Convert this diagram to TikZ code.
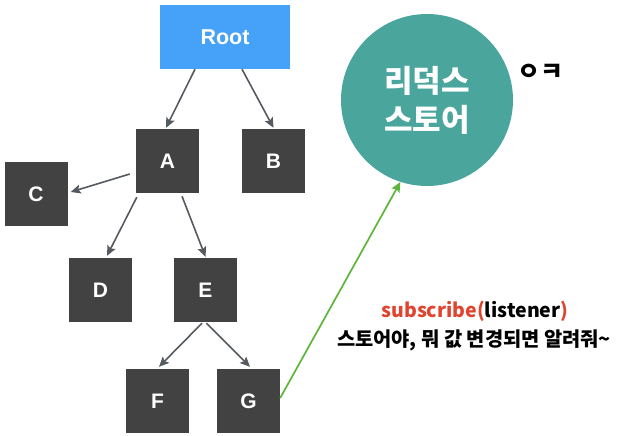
\documentclass[tikz,border=0pt]{standalone}
\usepackage{fontspec}
\setmainfont{Liberation Sans}
\newfontfamily\kr{Noto Sans CJK KR}
\usetikzlibrary{arrows.meta}
\definecolor{rootblue}{HTML}{45A2F8}
\definecolor{boxgray}{HTML}{424242}
\definecolor{teal}{HTML}{4AA59C}
\definecolor{arrgray}{HTML}{555A60}
\definecolor{lgreen}{HTML}{5DB53A}
\definecolor{sred}{HTML}{E0442F}
\tikzset{
  box/.style={fill=boxgray, text=white, minimum width=63pt, minimum height=64pt, inner sep=0pt, font=\fontsize{21}{24}\selectfont\bfseries},
  rootbox/.style={fill=rootblue, text=white, minimum width=130pt, minimum height=64pt, inner sep=0pt, font=\fontsize{21.5}{24}\selectfont\bfseries},
  edge/.style={draw=arrgray, line width=1.6pt, -{Stealth[length=10pt,width=9pt,inset=2pt]}},
  gedge/.style={draw=lgreen, line width=1.7pt, -{Stealth[length=10pt,width=9pt,inset=2pt]}},
}
\begin{document}
\begin{tikzpicture}[x=1pt,y=-1pt]
\useasboundingbox (0,0) rectangle (619,436);
\node[rootbox] (root) at (225,37) {\raisebox{-1.5pt}{Root}};
\node[box] (A) at (167.5,161) {A};
\node[box] (B) at (273.5,161) {B};
\node[box] (C) at (36,194) {C};
\node[box] (D) at (100.5,290) {D};
\node[box] (E) at (205.5,290) {E};
\node[box] (F) at (157.5,401) {F};
\node[box] (G) at (248.5,401) {G};
\node[circle, fill=teal, minimum size=172pt, inner sep=0pt, text=white, align=center,
  font=\kr\bfseries\fontsize{31}{39}\selectfont] (store) at (427,100) {리덕스\\스토어};
\node[font=\kr\bfseries\fontsize{25}{28}\selectfont] (ok) at (540,72) {ㅇㅋ};
\node[font=\kr\bfseries\fontsize{19.5}{22}\selectfont, text=sred] (sub) at (475,311) {subscribe(\textcolor{black}{listener})};
\node[font=\kr\bfseries\fontsize{19.8}{22}\selectfont] (msg) at (474,340) {스토어야, 뭐 값 변경되면 알려줘\textasciitilde};
\draw[edge] ([xshift=-30pt]root.south) -- ([xshift=-1.5pt,yshift=1pt]A.north);
\draw[edge] ([xshift=17pt]root.south) -- ([yshift=1pt]B.north);
\draw[edge] ([xshift=-6pt,yshift=-13pt]A.west) -- ([xshift=3pt,yshift=2pt]C.east);
\draw[edge] ([xshift=1pt,yshift=-4pt]A.south west) -- ([xshift=6.5pt,yshift=2pt]D.north);
\draw[edge] ([xshift=14.5pt,yshift=-3pt]A.south) -- ([yshift=1pt]E.north);
\draw[edge] ([xshift=-3.5pt,yshift=-1pt]E.south) -- ([xshift=1.5pt,yshift=2pt]F.north);
\draw[edge] ([xshift=1pt,yshift=-1pt]E.south) -- ([xshift=1.5pt,yshift=2pt]G.north);
\draw[gedge] ([yshift=3pt]G.east) -- (store.252);
\end{tikzpicture}
\end{document}
